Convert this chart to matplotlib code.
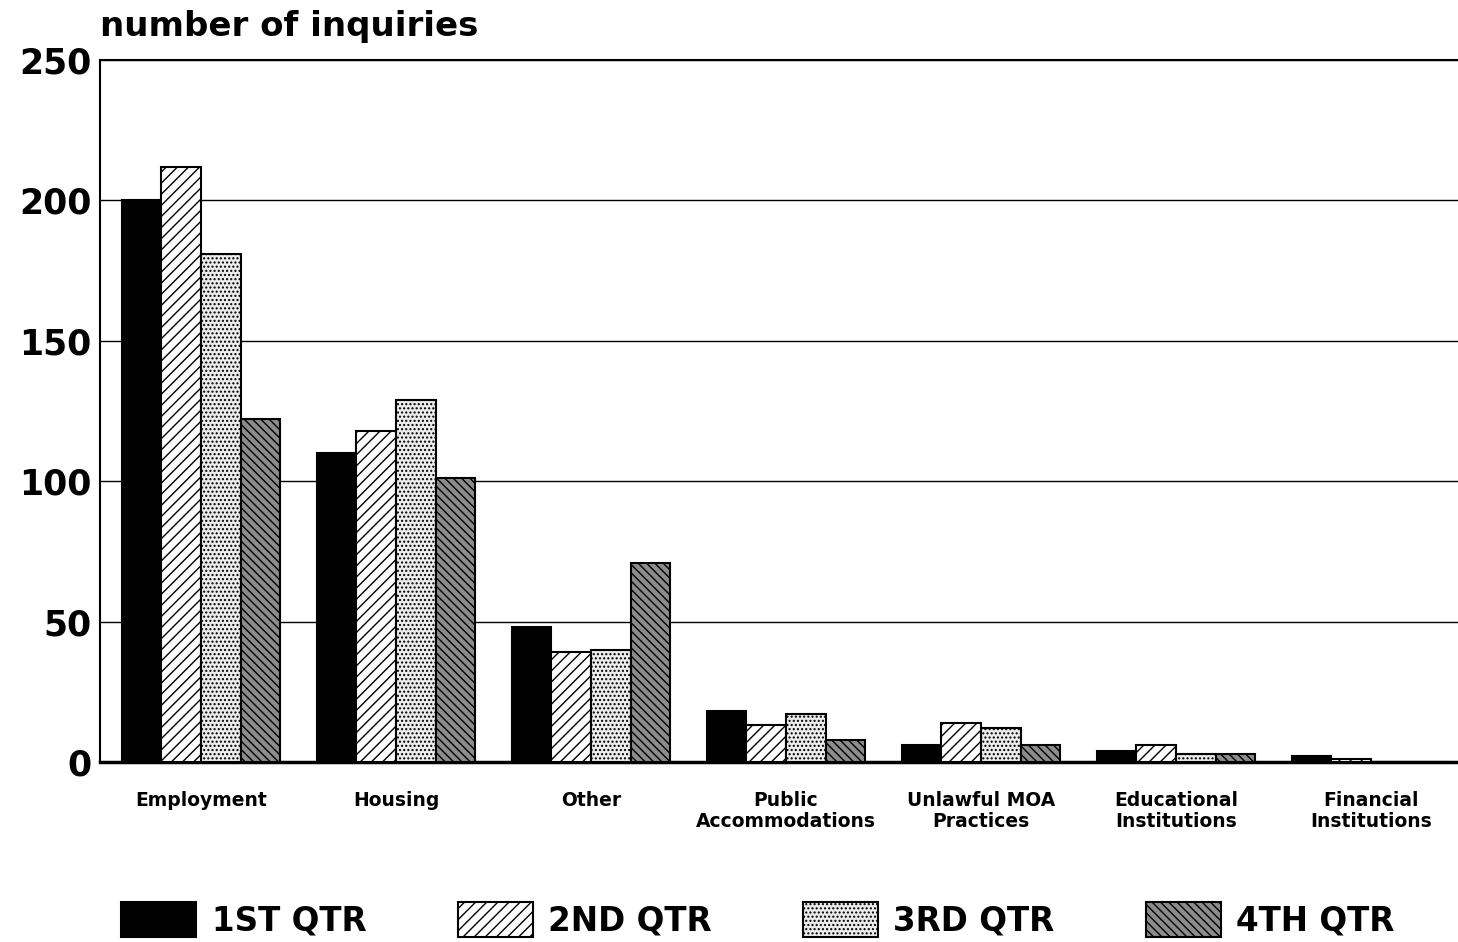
import matplotlib
matplotlib.use("Agg")
import matplotlib.pyplot as plt
import numpy as np

categories = ["Employment", "Housing", "Other", "Public\nAccommodations",
              "Unlawful MOA\nPractices", "Educational\nInstitutions", "Financial\nInstitutions"]
q1 = [200, 110, 48, 18, 6, 4, 2]
q2 = [212, 118, 39, 13, 14, 6, 1]
q3 = [181, 129, 40, 17, 12, 3, 0]
q4 = [122, 101, 71, 8, 6, 3, 0]
series_labels = ["1ST QTR", "2ND QTR", "3RD QTR", "4TH QTR"]
yticks = [0, 50, 100, 150, 200, 250]

plt.rcParams['font.family'] = ['DejaVu Sans']
plt.rcParams['font.weight'] = 'bold'
plt.rcParams['hatch.linewidth'] = 1.0

fig = plt.figure(figsize=(14.58, 9.42), dpi=100)
ax = fig.add_axes([100/1458, 1-762/942, 1-100/1458, (762-60)/942])

styles = [
    dict(facecolor="black", hatch=None),
    dict(facecolor="white", hatch="///"),
    dict(facecolor="#ececec", hatch="...."),
    dict(facecolor="#8c8c8c", hatch="\\\\\\\\"),
]
x = np.arange(len(categories))
w = 0.203
data = [q1, q2, q3, q4]
handles = []
for i, (vals, st) in enumerate(zip(data, styles)):
    b = ax.bar(x + (i - 1.5) * w, vals, width=w, facecolor=st["facecolor"],
               hatch=st["hatch"], edgecolor="black", linewidth=1.5, zorder=3,
               label=series_labels[i])
    handles.append(b)

ax.set_ylim(0, 250)
ax.set_xlim(-0.518, 6.446)
ax.set_yticks(yticks)
ax.set_yticklabels([str(t) for t in yticks], fontsize=25, fontweight='bold')
ax.yaxis.grid(True, color="black", linewidth=1.0, zorder=0)
ax.set_axisbelow(True)
ax.set_xticks(x)
ax.set_xticklabels(categories, fontsize=13.5, fontweight='bold', linespacing=1.15)
ax.tick_params(axis='x', length=0, pad=21)
ax.tick_params(axis='y', length=0, pad=6)
ax.spines['right'].set_visible(False)
ax.spines['top'].set_linewidth(1.5)
ax.spines['left'].set_linewidth(1.5)
ax.spines['bottom'].set_linewidth(2.5)

fig.text(100/1458, 1-36/942, "number of inquiries", fontsize=24.5, fontweight='bold',
         ha='left', va='baseline')

fig.legend(handles=handles, labels=series_labels, loc='center',
           bbox_to_anchor=(758/1458, 1-920/942), ncol=4, frameon=False,
           prop=dict(size=23.5, weight='bold'), handlelength=2.3, handleheight=1.25,
           handletextpad=0.47, columnspacing=2.8)

fig.savefig("out.png", dpi=100)
